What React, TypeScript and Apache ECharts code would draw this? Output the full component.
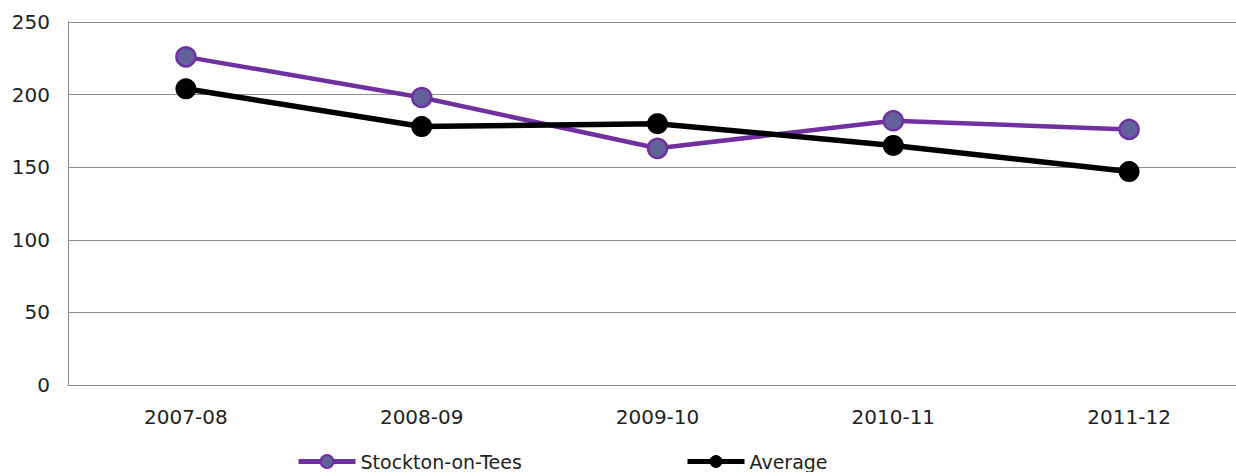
import React, { useEffect, useRef } from "react";
import * as echarts from "echarts";

const categories = ["2007-08", "2008-09", "2009-10", "2010-11", "2011-12"];
const stocktonValues = [226, 198, 163, 182, 176];
const averageValues = [204, 178, 180, 165, 147];
const yMin = 0;
const yMax = 250;
const yInterval = 50;

export default function App() {
  const ref = useRef<HTMLDivElement>(null);
  useEffect(() => {
    if (!ref.current) return;
    const chart = echarts.init(ref.current, null, { renderer: "svg" });
    const font = "'DejaVu Sans', Verdana, sans-serif";
    const legendBase = {
      top: 452,
      padding: 0,
      itemWidth: 57,
      itemHeight: 16,
      textStyle: { color: "#222", fontFamily: font, fontSize: 19 },
    };
    chart.setOption({
      animation: false,
      backgroundColor: "#ffffff",
      grid: { left: 68, top: 22, width: 1179, height: 363, containLabel: false },
      xAxis: {
        type: "category",
        data: categories,
        boundaryGap: true,
        axisLine: { show: true, lineStyle: { color: "#8c8c8c", width: 1 } },
        axisTick: { show: false },
        axisLabel: { color: "#222", fontFamily: font, fontSize: 20, margin: 22 },
      },
      yAxis: {
        type: "value",
        min: yMin,
        max: yMax,
        interval: yInterval,
        axisLine: { show: true, lineStyle: { color: "#8c8c8c", width: 1 } },
        axisTick: { show: false },
        splitLine: { show: true, lineStyle: { color: "#8c8c8c", width: 1 } },
        axisLabel: { color: "#222", fontFamily: font, fontSize: 20, margin: 18 },
      },
      legend: [
        { ...legendBase, left: 296, data: ["Stockton-on-Tees"], lineStyle: { width: 5 } },
        { ...legendBase, left: 685, data: ["Average"], lineStyle: { width: 5 } },
      ],
      series: [
        {
          name: "Stockton-on-Tees",
          type: "line",
          data: stocktonValues,
          symbol: "circle",
          symbolSize: 19,
          lineStyle: { color: "#7030a0", width: 4.5 },
          itemStyle: { color: "#62629a", borderColor: "#7030a0", borderWidth: 2.5 },
          z: 3,
        },
        {
          name: "Average",
          type: "line",
          data: averageValues,
          symbol: "circle",
          symbolSize: 21,
          lineStyle: { color: "#000000", width: 5.5 },
          itemStyle: { color: "#000000", borderColor: "#000000", borderWidth: 0 },
          z: 4,
        },
      ],
    });
    return () => chart.dispose();
  }, []);
  return (
    <div
      style={{
        position: "absolute",
        left: 0,
        top: 0,
        width: 1236,
        height: 472,
        overflow: "hidden",
      }}
    >
      <div ref={ref} style={{ width: 1247, height: 472 }} />
    </div>
  );
}
